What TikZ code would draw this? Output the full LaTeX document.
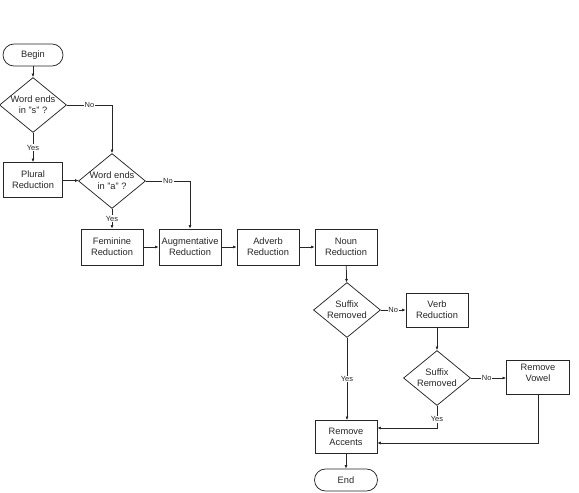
\documentclass[tikz,border=0pt]{standalone}
\usepackage{fontspec}
\setmainfont{Liberation Sans}
\usetikzlibrary{shapes.geometric,arrows.meta}
\begin{document}
\begin{tikzpicture}[x=1pt,y=-1pt,
  txt/.style={font=\fontsize{9.3}{11}\selectfont, text=black!85},
  box/.style={draw=black!85, line width=0.75pt, minimum width=62pt, minimum height=36pt, inner sep=1pt, align=center, txt},
  term/.style={draw=black!85, line width=0.75pt, rounded corners=11pt, minimum width=60pt, minimum height=22pt, inner sep=1pt, txt},
  dec/.style={draw=black!85, line width=0.75pt, diamond, aspect=1.22, minimum width=67pt, minimum height=55pt, inner sep=0pt, align=center, txt},
  arr/.style={draw=black!85, line width=0.75pt, -{Latex[length=3.5pt,width=3pt]}},
  lbl/.style={fill=white, inner sep=0.8pt, font=\fontsize{7.5}{8}\selectfont, text=black!85}
]
\useasboundingbox (0,0) rectangle (579,493);

\node[term] (begin) at (33,55) {Begin};
\node[dec] (d1) at (33,105) {Word ends\\in "s" ?};
\node[box, minimum width=59pt, minimum height=35pt] (plural) at (33,180) {Plural\\Reduction};
\node[dec] (d2) at (112,181) {Word ends\\in "a" ?};
\node[box] (fem) at (112,247) {Feminine\\Reduction};
\node[box] (aug) at (190,247) {Augmentative\\Reduction};
\node[box] (adv) at (268,247) {Adverb\\Reduction};
\node[box] (noun) at (346,247) {Noun\\Reduction};
\node[dec] (s1) at (347,310) {Suffix\\Removed};
\node[box, minimum height=34pt] (verb) at (437,310) {Verb\\Reduction};
\node[dec] (s2) at (437,378) {Suffix\\Removed};
\node[box, minimum width=63pt, minimum height=34pt, text depth=8pt] (vowel) at (538,377) {Remove\\Vowel};
\node[box, minimum height=33pt] (acc) at (346,437) {Remove\\Accents};
\node[term, minimum width=63pt] (end) at (346,480) {End};

\draw[arr] (begin) -- (d1);
\draw[arr] (d1) -- node[lbl] {Yes} (plural);
\draw[arr] (d1.east) -| node[lbl, pos=0.25] {No} (d2.north);
\draw[arr] (plural) -- (d2);
\draw[arr] (d2.east) -| node[lbl, pos=0.25] {No} (aug.north);
\draw[arr] (d2) -- node[lbl] {Yes} (fem);
\draw[arr] (fem) -- (aug);
\draw[arr] (aug) -- (adv);
\draw[arr] (adv) -- (noun);
\draw[arr] (noun) -- (s1);
\draw[arr] (s1) -- node[lbl] {No} (verb);
\draw[arr] (s1.south) -- node[lbl] {Yes} (s1.south |- acc.north);
\draw[arr] (verb) -- (s2);
\draw[arr] (s2.east) -- node[lbl, pos=0.45] {No} (s2.east -| vowel.west);
\draw[arr] (s2.south) |- node[lbl, pos=0.3] {Yes} ([yshift=9pt]acc.east);
\draw[arr] (vowel.south) |- ([yshift=-6pt]acc.east);
\draw[arr] (acc) -- (end);
\end{tikzpicture}
\end{document}
